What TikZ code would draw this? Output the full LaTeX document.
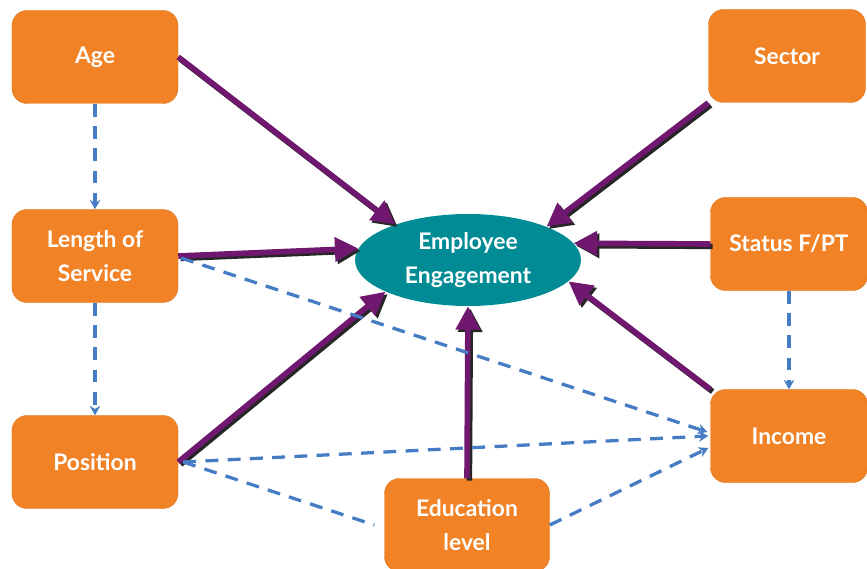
\documentclass[tikz,border=0pt]{standalone}
\usepackage{fontspec}
\setmainfont{Lato}
\usetikzlibrary{shapes.geometric,arrows.meta,positioning,calc}
\usepackage{xcolor}
\definecolor{boxorange}{RGB}{241,130,37}
\definecolor{coreteal}{RGB}{0,139,149}
\definecolor{flowpurple}{RGB}{112,24,112}
\definecolor{linkblue}{RGB}{70,124,196}

\begin{document}
\begin{tikzpicture}[
    x=0.03cm, y=-0.03cm,
    factor/.style={rectangle, rounded corners=0.45cm, fill=boxorange, draw=boxorange!92!black, line width=0.4pt, minimum width=4.98cm, minimum height=2.79cm, text=white, align=center, font=\bfseries\fontsize{19.5}{29}\selectfont},
    core/.style={ellipse, fill=coreteal, minimum width=6.78cm, minimum height=2.76cm, inner sep=0pt, text=white, align=center, font=\bfseries\fontsize{19.5}{29}\selectfont},
    effect/.style={draw=flowpurple, line width=4.8pt, -{Triangle[length=20pt,width=20pt]},
        preaction={draw=black!85, line width=4.8pt, -{Triangle[length=20pt,width=20pt]}, transform canvas={shift={(0.07cm,-0.07cm)}}}},
    link/.style={draw=linkblue, line width=2.8pt, dash pattern=on 11pt off 8pt, -{Stealth[length=8pt,width=9pt]}}
]
\useasboundingbox (0,0) rectangle (867,569);

% Engagement
\node (ee) [core] at (468,260) {Employee\\Engagement};

% Left column
\node (age) [factor] at (95,57) {Age};
\node (los) [factor] at (95,256) {Length of\\Service};
\node (pos) [factor] at (95,462) {Position};

% Right column
\node (sec) [factor, minimum width=4.71cm] at (787,56) {Sector};
\node (sta) [factor, minimum width=4.71cm] at (789,244) {Status F/PT};
\node (inc) [factor, minimum width=4.71cm] at (789,436) {Income};

% Bottom
\node (edu) [factor, minimum width=4.95cm] at (467,525) {Education\\level};

% Effects on engagement
\draw[effect] (age.east) -- (ee.154);
\draw[effect] (los.east) -- (ee.174);
\draw[effect] (pos.east) -- (ee.201);
\draw[effect] (edu.north) -- (ee.south);
\draw[effect] (inc.north west) -- (ee.348);
\draw[effect] (sta.west) -- (ee.9);
\draw[effect] (sec.south west) -- (ee.23);

% Links between factors
\draw[link] (age.south) -- (los.north);
\draw[link] (los.south) -- (pos.north);
\draw[link] (sta.south) -- (inc.north);
\draw[link] ($(los.east)+(3,2)$) -- ($(inc.west)+(-3,-4)$);
\draw[link] ($(pos.east)+(5,0)$) -- ($(inc.west)+(-2,0)$);
\draw[link, -] ($(pos.east)+(5,0)$) -- ($(edu.west)+(-10,0)$);
\draw[link] (edu.east) -- ($(inc.west)+(-2,12)$);

\end{tikzpicture}
\end{document}
